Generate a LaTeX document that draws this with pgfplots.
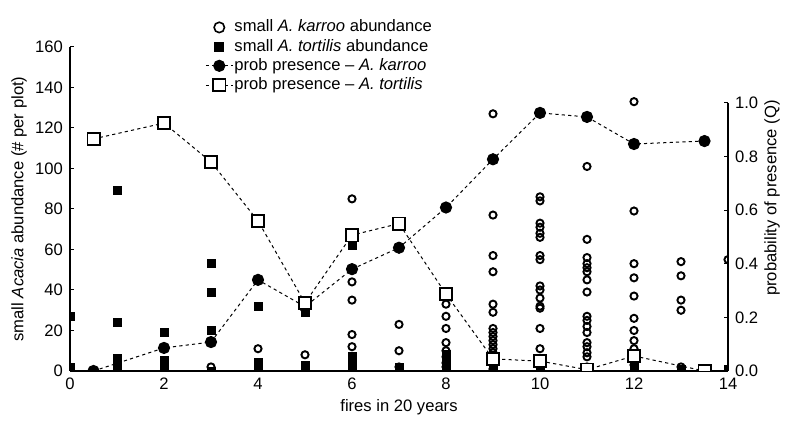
\documentclass[border=0pt]{standalone}
\usepackage{fontspec}
\setmainfont{Liberation Sans}
\usepackage{pgfplots}
\usepackage{pgfplotstable}
\pgfplotsset{compat=1.18}

% small A. karroo abundance (open circles)
\pgfplotstableread{
x y
3 2
4 11
5 8
6 85
6 44
6 35
6 18
6 12
7 23
7 10
7 2
8 37
8 33
8 27
8 21
8 14
8 10
8 7
8 4
8 2
9 127
9 77
9 57
9 49
9 33
9 29
9 21
9 19
9 17
9 15
9 13
9 11
9 9
9 7
9 5
9 3
9 1
10 86
10 84
10 73
10 71
10 68
10 66
10 57
10 55
10 42
10 40
10 36
10 32
10 31
10 21
10 11
10 4
10 2
11 101
11 65
11 56
11 53
11 51
11 49
11 45
11 39
11 27
11 25
11 22
11 19
11 14
11 12
11 9
11 7
11 2
12 133
12 79
12 53
12 46
12 37
12 26
12 20
12 15
12 11
12 8
12 3
13 54
13 47
13 35
13 30
13 2
14 55
}\karrooab

% small A. tortilis abundance (filled squares)
\pgfplotstableread{
x y
0 27
0 2
1 89
1 24
1 6
1 4
1 2
2 19
2 5
2 3
2 1
3 53
3 39
3 20
3 0
4 32
4 4
4 2
5 29
5 3
5 1
6 62
6 7
6 5
6 3
6 1
7 2
7 1
8 8
8 6
8 4
8 2
8 1
9 4
9 2
9 1
10 2
10 1
11 1
12 3
12 1
13 1
14 1
}\tortilisab

% probability of presence
\pgfplotstableread{
x y
0.5 0.0
2 0.086
3 0.108
4 0.34
5 0.24
6 0.38
7 0.46
8 0.61
9 0.79
10 0.963
11 0.948
12 0.847
13.5 0.858
}\karroop

\pgfplotstableread{
x y
0.5 0.866
2 0.925
3 0.78
4 0.56
5 0.254
6 0.507
7 0.55
8 0.287
9 0.045
10 0.037
11 0.005
12 0.056
13.5 0.0
}\tortilisp

\begin{document}
\begin{tikzpicture}
\pgfplotsset{
  base/.style={
    scale only axis, width=329pt, height=162pt,
    xmin=0, xmax=14,
    clip marker paths=true,
    tick align=inside, major tick length=2pt,
    axis line style={-, line width=0.6pt},
    tick style={line width=0.5pt, black},
    ticklabel style={font=\fontsize{8.3}{10}\selectfont},
    /pgf/number format/assume math mode=true,
  },
  abK/.style={only marks, mark=o, mark size=1.8pt, mark options={line width=0.95pt, black}},
  abT/.style={only marks, mark=square*, mark size=2pt, mark options={black, fill=black}},
  prK/.style={black, line width=0.5pt, dash pattern=on 1.6pt off 1.6pt,
    mark=*, mark size=2.8pt, mark options={solid, fill=black}},
  prT/.style={black, line width=0.5pt, dash pattern=on 1.6pt off 1.6pt,
    mark=square*, mark size=3.1pt, mark options={solid, fill=white, line width=0.8pt}},
}
\begin{axis}[base, name=L,
  ymin=0, ymax=160,
  axis x line*=bottom, axis y line*=left,
  xtick={0,2,...,14}, ytick={0,20,...,160},
  xlabel={fires in 20 years},
  ylabel={small \textit{Acacia} abundance (\# per plot)},
  every axis x label/.style={at={(axis description cs:0.5,-0.111)}, anchor=center,
    font=\fontsize{8.3}{10}\selectfont},
  every axis y label/.style={at={(axis description cs:-0.0775,0.5)}, anchor=center, rotate=90,
    font=\fontsize{8.3}{10}\selectfont},
  legend image code/.code={\draw[mark repeat=2, mark phase=2, #1] plot coordinates {(0pt,0pt)(6.75pt,0pt)(13.5pt,0pt)};},
  legend style={at={(axis description cs:0.205,1.09)}, anchor=north west,
    draw=none, fill=none, inner sep=0pt, row sep=0.4pt,
    font=\fontsize{8.3}{10}\selectfont,
    nodes={inner sep=0.6pt, text height=6.2pt, text depth=1.8pt}},
  legend cell align=left,
]
\addplot[abK, forget plot] table {\karrooab};
\addplot[abT, forget plot] table {\tortilisab};
\addlegendimage{only marks, mark=o, mark size=2.6pt, mark options={line width=0.8pt, black}}
\addlegendentry{small \textit{A. karroo} abundance}
\addlegendimage{only marks, mark=square*, mark size=2.2pt, mark options={black, fill=black}}
\addlegendentry{small \textit{A. tortilis} abundance}
\addlegendimage{prK}
\addlegendentry{prob presence -- \textit{A. karroo}}
\addlegendimage{prT}
\addlegendentry{prob presence -- \textit{A. tortilis}}
\end{axis}
\begin{axis}[base,
  ymin=0, ymax=1.209,
  hide x axis,
  axis y line*=right,
  y axis line style={draw=none},
  ytick={0,0.2,...,1.0},
  yticklabel style={/pgf/number format/.cd, fixed, fixed zerofill, precision=1},
  ylabel={probability of presence (Q)},
  every axis y label/.style={at={(axis description cs:1.067,0.534)}, anchor=center, rotate=90,
    font=\fontsize{8.3}{10}\selectfont},
  extra description/.code={\draw[line width=0.6pt] (rel axis cs:1,0) -- (rel axis cs:1,0.827);},
]
\addplot[prK] table {\karroop};
\addplot[prT] table {\tortilisp};
\end{axis}
\path ([xshift=-35pt,yshift=-25pt]L.south west) ([xshift=29.5pt,yshift=23.5pt]L.north east);
\end{tikzpicture}
\end{document}
